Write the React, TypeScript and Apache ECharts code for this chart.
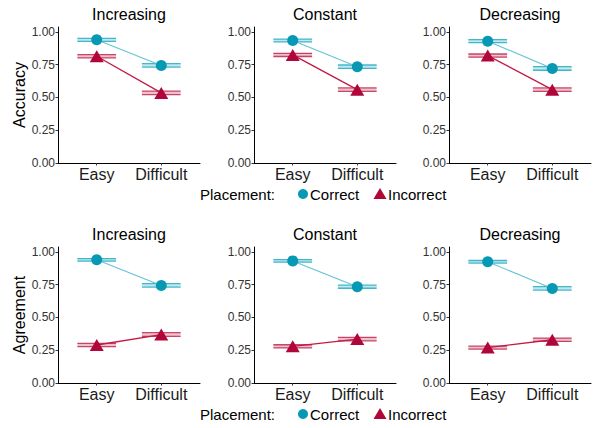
import React, { useEffect, useRef } from "react";
import * as echarts from "echarts";

const categories = ["Easy", "Difficult"];
const panels = ["Increasing", "Constant", "Decreasing"];
const yTicks = [0, 0.25, 0.5, 0.75, 1];

// [Easy, Difficult] per panel
const accCorrect = [[0.940, 0.745], [0.935, 0.735], [0.930, 0.722]];
const accCorrectErr = [[0.011, 0.013], [0.011, 0.013], [0.012, 0.014]];
const accIncorrect = [[0.815, 0.535], [0.825, 0.560], [0.820, 0.560]];
const accIncorrectErr = [[0.012, 0.013], [0.012, 0.013], [0.012, 0.013]];
const agrCorrect = [[0.940, 0.745], [0.932, 0.735], [0.925, 0.722]];
const agrCorrectErr = [[0.010, 0.013], [0.010, 0.012], [0.010, 0.013]];
const agrIncorrect = [[0.290, 0.370], [0.280, 0.335], [0.270, 0.330]];
const agrIncorrectErr = [[0.012, 0.014], [0.012, 0.013], [0.011, 0.013]];

const FONT = "Liberation Sans, Arial, sans-serif";
const C_COL = "#0799b3";
const C_LINE = "#62c4d6";
const C_BAND = "rgba(120,205,220,0.45)";
const C_ERR = "rgba(40,170,195,0.85)";
const I_COL = "#b1063a";
const I_LINE = "#c21a44";
const I_BAND = "rgba(215,120,145,0.45)";
const I_ERR = "rgba(190,40,80,0.85)";

export default function App() {
  const ref = useRef<HTMLDivElement>(null);
  useEffect(() => {
    document.body.style.margin = "0";
    const chart = echarts.init(ref.current!, null, { renderer: "svg" });
    const lefts = [58, 254, 449];
    const tops = [27, 247];
    const grids: any[] = [];
    const xAxes: any[] = [];
    const yAxes: any[] = [];
    const series: any[] = [];
    const graphic: any[] = [];
    const rows = [
      { name: "Accuracy", c: accCorrect, ce: accCorrectErr, i: accIncorrect, ie: accIncorrectErr },
      { name: "Agreement", c: agrCorrect, ce: agrCorrectErr, i: agrIncorrect, ie: agrIncorrectErr },
    ];
    const errSeries = (idx: number, vals: number[], errs: number[], band: string, line: string) => ({
      type: "custom",
      xAxisIndex: idx,
      yAxisIndex: idx,
      z: 1,
      data: vals.map((v, k) => [k + 1, v - errs[k], v + errs[k]]),
      renderItem: (params: any, api: any) => {
        const x = api.value(0);
        const lo = api.value(1);
        const hi = api.value(2);
        const p1 = api.coord([x - 0.3, hi]);
        const p2 = api.coord([x + 0.3, lo]);
        return {
          type: "group",
          children: [
            { type: "rect", shape: { x: p1[0], y: p1[1], width: p2[0] - p1[0], height: p2[1] - p1[1] }, style: { fill: band } },
            { type: "line", shape: { x1: p1[0], y1: p1[1], x2: p2[0], y2: p1[1] }, style: { stroke: line, lineWidth: 1.3 } },
            { type: "line", shape: { x1: p1[0], y1: p2[1], x2: p2[0], y2: p2[1] }, style: { stroke: line, lineWidth: 1.3 } },
          ],
        };
      },
    });
    rows.forEach((row, r) => {
      panels.forEach((p, c) => {
        const idx = r * 3 + c;
        grids.push({ left: lefts[c], top: tops[r], width: 142, height: 136 });
        xAxes.push({
          type: "value",
          gridIndex: idx,
          min: 0.4,
          max: 2.6,
          axisLine: { show: true, lineStyle: { color: "#000", width: 1 } },
          axisTick: { show: true, customValues: [1, 2], length: 2.5, lineStyle: { color: "#333" } },
          splitLine: { show: false },
          axisLabel: {
            customValues: [1, 2],
            formatter: (v: number) => categories[Math.round(v) - 1] || "",
            fontSize: 16,
            fontFamily: FONT,
            color: "#1a1a1a",
            margin: 3,
          },
        });
        yAxes.push({
          type: "value",
          gridIndex: idx,
          min: 0,
          max: 1.038,
          name: c === 0 ? row.name : "",
          nameLocation: "middle",
          nameGap: 26,
          nameRotate: 90,
          nameTextStyle: { fontSize: 16, fontFamily: FONT, color: "#000" },
          axisLine: { show: true, lineStyle: { color: "#000", width: 1 } },
          axisTick: { show: true, customValues: yTicks, length: 2.5, lineStyle: { color: "#333" } },
          splitLine: { show: false },
          axisLabel: {
            customValues: yTicks,
            formatter: (v: number) => v.toFixed(2),
            fontSize: 12,
            fontFamily: FONT,
            color: "#333",
            margin: 3,
          },
        });
        graphic.push({
          type: "text",
          x: lefts[c] + 71,
          y: tops[r] - 13,
          style: { text: p, fontSize: 16, fontFamily: FONT, fill: "#000", align: "center", verticalAlign: "middle" },
        });
        series.push(errSeries(idx, row.c[c], row.ce[c], C_BAND, C_ERR));
        series.push(errSeries(idx, row.i[c], row.ie[c], I_BAND, I_ERR));
        series.push({
          type: "line",
          name: "Correct",
          xAxisIndex: idx,
          yAxisIndex: idx,
          z: 3,
          data: row.c[c].map((v, k) => [k + 1, v]),
          symbol: "circle",
          symbolSize: 11,
          itemStyle: { color: C_COL },
          lineStyle: { color: C_LINE, width: 1.1 },
        });
        series.push({
          type: "line",
          name: "Incorrect",
          xAxisIndex: idx,
          yAxisIndex: idx,
          z: 3,
          data: row.i[c].map((v, k) => [k + 1, v]),
          symbol: "triangle",
          symbolSize: [14, 12],
          itemStyle: { color: I_COL },
          lineStyle: { color: I_LINE, width: 1.3 },
        });
      });
    });
    [194, 414].forEach((ly) => {
      graphic.push({ type: "text", x: 200, y: ly, style: { text: "Placement:", fontSize: 15, fontFamily: FONT, fill: "#000", verticalAlign: "middle" } });
      graphic.push({ type: "circle", shape: { cx: 303, cy: ly, r: 5 }, style: { fill: C_COL } });
      graphic.push({ type: "text", x: 310, y: ly, style: { text: "Correct", fontSize: 15, fontFamily: FONT, fill: "#000", verticalAlign: "middle" } });
      graphic.push({ type: "polygon", shape: { points: [[380, ly - 6], [386.5, ly + 5], [373.5, ly + 5]] }, style: { fill: I_COL } });
      graphic.push({ type: "text", x: 388, y: ly, style: { text: "Incorrect", fontSize: 15, fontFamily: FONT, fill: "#000", verticalAlign: "middle" } });
    });
    chart.setOption({
      animation: false,
      backgroundColor: "#fff",
      grid: grids,
      xAxis: xAxes,
      yAxis: yAxes,
      series,
      graphic,
    });
    return () => chart.dispose();
  }, []);
  return <div ref={ref} style={{ width: 595, height: 428 }} />;
}
